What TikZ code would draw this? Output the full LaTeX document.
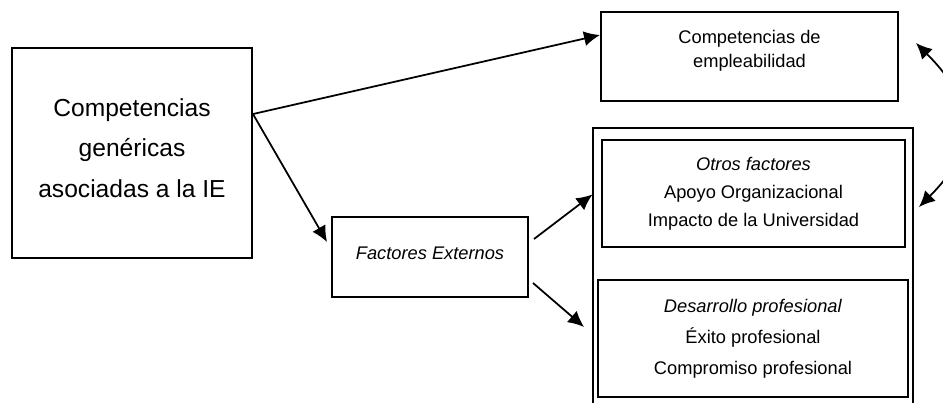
\documentclass[tikz,border=0pt]{standalone}
\usepackage{fontspec}
\setmainfont{Liberation Sans}
\usetikzlibrary{arrows.meta}
\usetikzlibrary{calc,positioning}

\tikzset{
    blk/.style={draw, line width=1.1pt, align=center, inner sep=0pt, font=\fontsize{10.4}{13.6}\selectfont},
    grpbox/.style={draw, line width=0.6pt, inner sep=0pt},
    conn/.style={line width=1pt, -{Latex[length=3.2mm,width=3mm]}},
}

\begin{document}
\begin{tikzpicture}
    \clip (0,0) rectangle (18.86,8.04);
    \node[blk, minimum width=4.8cm, minimum height=4.2cm, font=\fontsize{14}{23.2}\selectfont] (gen) at (2.64,4.98) {Competencias\\genéricas\\asociadas a la IE\rule[-0.2cm]{0pt}{0pt}};
    \node[blk, minimum width=5.94cm, minimum height=1.78cm] (empl) at (14.99,6.91) {Competencias de\\empleabilidad\rule[-0.31cm]{0pt}{0pt}};
    
    \node[grpbox, minimum width=6.4cm, minimum height=5.68cm] (grp) at (15.06,2.64) {};
    \node[blk, minimum width=6.06cm, minimum height=2.14cm, font=\fontsize{10.4}{16}\selectfont] (otr) at (15.07,4.17) {\textit{Otros factores}\\Apoyo Organizacional\\Impacto de la Universidad};
    \node[blk, minimum width=6.2cm, minimum height=2.34cm, font=\fontsize{10.4}{17.6}\selectfont] (des) at (15.06,1.27) {\textit{Desarrollo profesional}\\Éxito profesional\\Compromiso profesional};
    
    \node[blk, minimum width=3.92cm, minimum height=1.6cm, font=\fontsize{10.4}{13.6}\selectfont\itshape] (fact) at (8.6,2.9) {Factores Externos\rule[-0.16cm]{0pt}{0pt}};
    
    \draw[conn] ([yshift=-1.34cm]gen.north east) -- ([yshift=0.43cm]empl.west);
    \draw[conn] ([yshift=-1.34cm]gen.north east) -- ([xshift=-0.08cm,yshift=-0.52cm]fact.north west);
    \draw[conn] ([xshift=0.1cm,yshift=-0.46cm]fact.north east) -- ([yshift=-1.34cm]grp.north west);
    \draw[conn] ([xshift=0.08cm,yshift=0.3cm]fact.south east) -- ([xshift=-0.26cm,yshift=0.23cm]des.west);
    
    % feedback between the two upper boxes
    \draw[line width=1pt, {Latex[length=3.2mm,width=3mm]}-{Latex[length=3.2mm,width=3mm]}] ([xshift=0.26cm,yshift=-0.27cm]otr.east) .. controls +(1.2,1.2) and +(1.2,-1.2) .. ([xshift=0.34cm,yshift=0.27cm]empl.east);
\end{tikzpicture}
\end{document}
